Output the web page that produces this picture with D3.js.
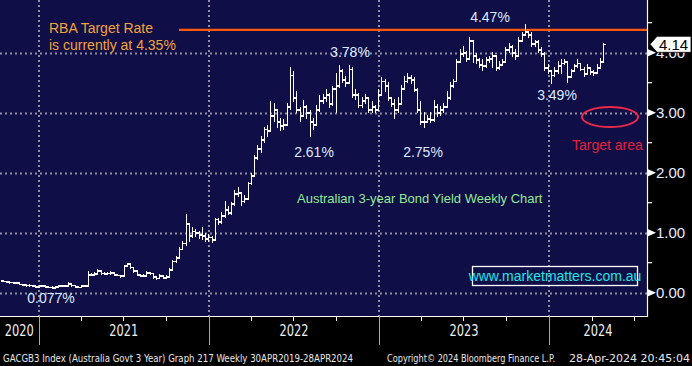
<!DOCTYPE html>
<html><head><meta charset="utf-8">
<script src="https://cdn.jsdelivr.net/npm/d3@7"></script>
<style>html,body{margin:0;padding:0;background:#000;overflow:hidden}</style>
</head><body>
<svg id="c" width="692" height="366"></svg>
<script>
// ---- data (weekly bars, GACGB3 Index) ----
const firstWeek = "2020-10-16";
const open = [0.20,0.19,0.18,0.17,0.16,0.16,0.14,0.13,0.12,0.12,
0.11,0.10,0.11,0.11,0.10,0.09,0.08,0.10,0.11,0.11,
0.11,0.15,0.12,0.10,0.09,0.11,0.11,0.30,0.30,0.31,
0.36,0.32,0.31,0.32,0.33,0.30,0.29,0.28,0.45,0.48,
0.42,0.36,0.30,0.28,0.28,0.33,0.32,0.26,0.24,0.28,
0.25,0.26,0.38,0.52,0.58,0.72,0.82,1.15,0.95,1.02,
1.00,0.96,0.95,0.90,0.92,0.88,1.22,1.18,1.28,1.38,
1.33,1.48,1.65,1.66,1.52,1.56,1.82,1.95,2.25,2.40,
2.55,2.72,2.70,2.95,3.05,2.85,2.78,2.80,3.10,3.62,
3.25,3.05,2.95,3.10,3.00,2.85,2.80,3.05,3.20,3.25,
3.30,3.15,3.40,3.45,3.70,3.55,3.50,3.72,3.30,3.30,
3.12,3.20,3.25,3.05,3.10,3.05,3.30,3.52,3.45,3.25,
3.15,3.05,3.15,3.40,3.52,3.58,3.55,3.38,3.05,2.85,
2.85,2.90,2.88,3.10,3.00,3.05,3.10,3.25,3.45,3.52,
3.85,3.98,4.00,3.90,4.20,3.95,3.88,3.80,3.78,3.88,
3.90,3.95,3.75,3.80,3.85,4.05,4.10,4.00,3.95,4.20,
4.30,4.35,4.30,4.15,4.18,4.05,3.98,3.75,3.70,3.62,
3.70,3.78,3.82,3.85,3.60,3.70,3.78,3.82,3.72,3.65,
3.75,3.68,3.66,3.75,3.85];
const high = [0.21,0.19,0.18,0.17,0.17,0.16,0.14,0.13,0.13,0.12,
0.12,0.12,0.12,0.11,0.10,0.10,0.11,0.12,0.12,0.12,
0.17,0.15,0.12,0.10,0.12,0.12,0.36,0.32,0.33,0.38,
0.36,0.33,0.34,0.35,0.33,0.31,0.29,0.46,0.49,0.48,
0.42,0.36,0.31,0.30,0.35,0.34,0.32,0.27,0.30,0.29,
0.28,0.40,0.54,0.60,0.76,0.85,1.30,1.16,1.08,1.05,
1.02,1.08,0.98,0.97,0.94,1.24,1.24,1.33,1.52,1.43,
1.50,1.71,1.75,1.66,1.62,1.83,1.98,2.28,2.45,2.61,
2.76,2.78,3.18,3.15,3.05,2.90,2.88,3.16,3.76,3.68,
3.35,3.08,3.20,3.12,3.04,2.90,3.12,3.28,3.30,3.38,
3.32,3.43,3.66,3.78,3.72,3.60,3.78,3.76,3.38,3.32,
3.25,3.30,3.25,3.18,3.12,3.38,3.58,3.55,3.50,3.26,
3.22,3.25,3.46,3.60,3.66,3.62,3.58,3.40,3.18,3.00,
2.95,3.00,3.20,3.13,3.10,3.16,3.35,3.50,3.55,3.88,
4.05,4.10,4.02,4.26,4.20,3.98,3.90,3.88,3.92,3.93,
4.00,3.95,3.85,3.88,4.08,4.15,4.12,4.05,4.25,4.33,
4.47,4.36,4.33,4.20,4.20,4.08,4.00,3.80,3.70,3.76,
3.85,3.88,3.88,3.86,3.72,3.80,3.88,3.82,3.76,3.80,
3.76,3.70,3.80,3.90,4.16];
const low = [0.18,0.17,0.16,0.15,0.15,0.13,0.12,0.11,0.11,0.10,
0.09,0.10,0.10,0.09,0.08,0.077,0.08,0.10,0.10,0.10,
0.11,0.11,0.08,0.08,0.09,0.10,0.11,0.28,0.29,0.30,
0.30,0.30,0.30,0.31,0.29,0.28,0.26,0.28,0.44,0.40,
0.34,0.29,0.27,0.27,0.28,0.30,0.24,0.22,0.24,0.24,
0.24,0.26,0.37,0.50,0.57,0.72,0.78,0.85,0.92,0.94,
0.90,0.88,0.85,0.86,0.83,0.87,1.14,1.16,1.26,1.30,
1.31,1.46,1.60,1.46,1.50,1.55,1.80,1.94,2.22,2.33,
2.50,2.60,2.68,2.85,2.76,2.70,2.72,2.78,3.05,3.18,
3.00,2.85,2.93,2.90,2.61,2.72,2.78,3.02,3.15,3.18,
3.08,3.12,3.00,3.42,3.50,3.43,3.48,3.26,3.22,3.08,
3.08,3.15,3.00,3.00,3.00,3.04,3.28,3.35,3.20,3.10,
2.90,3.00,3.13,3.40,3.50,3.48,3.35,3.00,2.80,2.75,
2.83,2.83,2.86,2.93,2.95,3.00,3.08,3.22,3.42,3.52,
3.85,3.93,3.85,3.90,3.83,3.82,3.76,3.70,3.76,3.83,
3.75,3.70,3.72,3.78,3.84,4.00,3.93,3.88,3.93,4.18,
4.29,4.25,4.10,4.10,4.00,3.93,3.70,3.66,3.49,3.60,
3.66,3.66,3.80,3.51,3.58,3.68,3.75,3.70,3.60,3.63,
3.63,3.62,3.65,3.73,3.85];
const close = [0.19,0.18,0.17,0.16,0.16,0.14,0.13,0.12,0.12,0.11,
0.10,0.11,0.11,0.10,0.09,0.08,0.10,0.11,0.11,0.11,
0.15,0.12,0.10,0.09,0.11,0.11,0.30,0.30,0.31,0.36,
0.32,0.31,0.32,0.33,0.30,0.29,0.28,0.45,0.48,0.42,
0.36,0.30,0.28,0.28,0.33,0.32,0.26,0.24,0.28,0.25,
0.26,0.38,0.52,0.58,0.72,0.82,1.15,0.95,1.02,1.00,
0.96,0.95,0.90,0.92,0.88,1.22,1.18,1.28,1.38,1.33,
1.48,1.65,1.66,1.52,1.56,1.82,1.95,2.25,2.40,2.55,
2.72,2.70,2.95,3.05,2.85,2.78,2.80,3.10,3.62,3.25,
3.05,2.95,3.10,3.00,2.85,2.80,3.05,3.20,3.25,3.30,
3.15,3.40,3.45,3.70,3.55,3.50,3.72,3.30,3.30,3.12,
3.20,3.25,3.05,3.10,3.05,3.30,3.52,3.45,3.25,3.15,
3.05,3.15,3.40,3.52,3.58,3.55,3.38,3.05,2.85,2.85,
2.90,2.88,3.10,3.00,3.05,3.10,3.25,3.45,3.52,3.85,
3.98,4.00,3.90,4.20,3.95,3.88,3.80,3.78,3.88,3.90,
3.95,3.75,3.80,3.85,4.05,4.10,4.00,3.95,4.20,4.30,
4.35,4.30,4.15,4.18,4.05,3.98,3.75,3.70,3.62,3.70,
3.78,3.82,3.85,3.60,3.70,3.78,3.82,3.72,3.65,3.75,
3.68,3.66,3.75,3.85,4.14];

const yTickValues = [0, 1, 2, 3, 4];
const yMinorValues = [0.5, 1.5, 2.5, 3.5, 4.5];
const yearLabels = ["2020", "2021", "2022", "2023", "2024"];
const yearStarts = ["2021-01-01", "2022-01-01", "2023-01-01", "2024-01-01"];
const lastValue = 4.14;
const rbaLevel = 4.38;
const rbaStart = "2021-10-29";
const peakTexts = ["4.47%", "3.78%", "2.61%", "2.75%", "3.49%", "0.077%"];
const footerLeft = "GACGB3 Index (Australia Govt 3 Year) Graph 217  Weekly 30APR2019-28APR2024";
const footerMid = "Copyright\u00A9 2024 Bloomberg Finance L.P.";
const footerRight = "28-Apr-2024 20:45:04";

// ---- layout ----
const W = 692, H = 366;
const plotR = 647, plotB = 316;
const svg = d3.select("#c");
const parse = d3.utcParse("%Y-%m-%d");

const x = d3.scaleUtc()
  .domain([Date.UTC(2020, 9, 10), Date.UTC(2024, 6, 29)])
  .range([0, plotR]);
const y = d3.scaleLinear().domain([0, 4]).range([292.7, 52.7]);

const start = parse(firstWeek);
const weeks = close.map((c, i) => ({
  d: d3.utcDay.offset(start, 7 * i), o: open[i], h: high[i], l: low[i], c
}));

svg.append("rect").attr("width", W).attr("height", H).attr("fill", "#000");
svg.append("rect").attr("x", 0).attr("y", 0).attr("width", plotR).attr("height", plotB)
  .attr("fill", "#0f0e47");

// grid
const grid = svg.append("g").attr("stroke", "#8e8e9e").attr("stroke-width", 2)
  .attr("stroke-dasharray", "2,3");
grid.selectAll("line.h").data(yTickValues).join("line")
  .attr("x1", 0).attr("x2", plotR)
  .attr("y1", d => Math.round(y(d)) + 0.5).attr("y2", d => Math.round(y(d)) + 0.5);
grid.selectAll("line.v").data(yearStarts.map(parse)).join("line")
  .attr("y1", 0).attr("y2", plotB)
  .attr("x1", d => Math.round(x(d))).attr("x2", d => Math.round(x(d)));

// RBA line
svg.append("line").attr("x1", x(parse(rbaStart))).attr("x2", plotR)
  .attr("y1", y(rbaLevel)).attr("y2", y(rbaLevel))
  .attr("stroke", "#ff5a0f").attr("stroke-width", 2.2);

// bars
const bars = svg.append("g").attr("stroke", "#fff").attr("stroke-width", 1.4)
  .attr("shape-rendering", "crispEdges");
bars.selectAll("line.hl").data(weeks).join("line")
  .attr("x1", d => Math.round(x(d.d)) + 0.5).attr("x2", d => Math.round(x(d.d)) + 0.5)
  .attr("y1", d => y(d.h) - 0.5).attr("y2", d => y(d.l) + 0.5);
bars.selectAll("line.o").data(weeks).join("line")
  .attr("x1", d => Math.round(x(d.d)) - 2).attr("x2", d => Math.round(x(d.d)) + 0.5)
  .attr("y1", d => y(d.o)).attr("y2", d => y(d.o)).attr("stroke-width", 1.6);
bars.selectAll("line.c").data(weeks).join("line")
  .attr("x1", d => Math.round(x(d.d)) + 0.5).attr("x2", d => Math.round(x(d.d)) + 3)
  .attr("y1", d => y(d.c)).attr("y2", d => y(d.c)).attr("stroke-width", 1.6);

// axes frame
svg.append("line").attr("x1", plotR + 0.5).attr("x2", plotR + 0.5).attr("y1", 0).attr("y2", plotB + 1)
  .attr("stroke", "#fff").attr("stroke-width", 1.2);
svg.append("line").attr("x1", 0).attr("x2", plotR + 1).attr("y1", plotB + 0.5).attr("y2", plotB + 0.5)
  .attr("stroke", "#fff").attr("stroke-width", 1.2);

// right axis
const ra = svg.append("g");
ra.selectAll("line.m").data(yMinorValues).join("line")
  .attr("x1", plotR).attr("x2", plotR + 5)
  .attr("y1", d => y(d)).attr("y2", d => y(d)).attr("stroke", "#fff").attr("stroke-width", 1.2);
ra.selectAll("path.tri").data(yTickValues).join("path")
  .attr("d", d => `M${plotR},${y(d) - 4}L${plotR + 9},${y(d)}L${plotR},${y(d) + 4}Z`)
  .attr("fill", "#fff");
ra.selectAll("text").data(yTickValues).join("text")
  .attr("x", plotR + 9).attr("y", d => y(d) + 5.5)
  .attr("fill", "#e6ecff").attr("font-family", "Liberation Sans, Arial, sans-serif")
  .attr("font-size", 15).text(d => d3.format(".2f")(d));

// last value box
const yl = y(lastValue);
svg.append("path")
  .attr("d", `M${plotR + 3},${yl}L${plotR + 10},${yl - 8}L691,${yl - 8}L691,${yl + 8}L${plotR + 10},${yl + 8}Z`)
  .attr("fill", "#fff").attr("stroke", "#000").attr("stroke-width", 0.8);
svg.append("text").attr("x", plotR + 12).attr("y", yl + 5.5)
  .attr("font-family", "Liberation Sans, Arial, sans-serif").attr("font-size", 15)
  .attr("fill", "#000").text(d3.format(".2f")(lastValue));

// bottom axis
const qTicks = d3.utcMonth.every(3).range(x.domain()[0], x.domain()[1]);
svg.append("g").selectAll("line").data(qTicks).join("line")
  .attr("x1", d => Math.round(x(d)) + 0.5).attr("x2", d => Math.round(x(d)) + 0.5)
  .attr("y1", plotB).attr("y2", plotB + 5).attr("stroke", "#fff").attr("stroke-width", 1);
svg.append("g").selectAll("line").data(yearStarts.map(parse)).join("line")
  .attr("x1", d => Math.round(x(d)) + 0.5).attr("x2", d => Math.round(x(d)) + 0.5)
  .attr("y1", plotB).attr("y2", 345).attr("stroke", "#a8a8a8").attr("stroke-width", 1);
const bounds = [0, ...yearStarts.map(s => x(parse(s))), plotR];
svg.append("g").selectAll("text").data(yearLabels).join("text")
  .attr("x", (d, i) => (bounds[i] + bounds[i + 1]) / 2)
  .attr("y", 336).attr("text-anchor", "middle")
  .attr("font-family", "DejaVu Sans Condensed, DejaVu Sans, sans-serif")
  .attr("font-stretch", "condensed")
  .attr("font-size", 15).attr("fill", "#f0f0f0")
  .attr("textLength", 29).attr("lengthAdjust", "spacingAndGlyphs")
  .text(d => d);

// footer
const ff = "DejaVu Sans Condensed, DejaVu Sans, sans-serif";
svg.append("text").attr("x", 3).attr("y", 362).attr("font-family", ff).attr("font-size", 10)
  .attr("fill", "#e8e8e8").attr("textLength", 350).attr("lengthAdjust", "spacingAndGlyphs").text(footerLeft);
svg.append("text").attr("x", 387).attr("y", 362).attr("font-family", ff).attr("font-size", 10)
  .attr("fill", "#e8e8e8").attr("textLength", 168).attr("lengthAdjust", "spacingAndGlyphs").text(footerMid);
svg.append("text").attr("x", 569).attr("y", 362).attr("font-family", ff).attr("font-size", 10)
  .attr("fill", "#e8e8e8").attr("textLength", 121).attr("lengthAdjust", "spacingAndGlyphs").text(footerRight);

// annotations
const af = "Liberation Sans, Arial, sans-serif";
svg.append("text").attr("x", 49).attr("y", 33).attr("font-family", af).attr("font-size", 14)
  .attr("fill", "#f2a33a").text("RBA Target Rate");
svg.append("text").attr("x", 49).attr("y", 50).attr("font-family", af).attr("font-size", 14)
  .attr("fill", "#f2a33a").text("is currently at 4.35%");

const peakPos = [[490, 22], [350, 57], [314, 157], [423, 157], [557, 100], [51, 303]];
svg.append("g").selectAll("text").data(peakTexts).join("text")
  .attr("x", (d, i) => peakPos[i][0]).attr("y", (d, i) => peakPos[i][1])
  .attr("text-anchor", "middle").attr("font-family", af).attr("font-size", 14)
  .attr("fill", "#dbe8ff").text(d => d);

svg.append("text").attr("x", 297).attr("y", 203).attr("font-family", af).attr("font-size", 13)
  .attr("fill", "#95e895").text("Australian 3-year Bond Yield Weekly Chart");

svg.append("ellipse").attr("cx", 610).attr("cy", 117).attr("rx", 28).attr("ry", 10)
  .attr("fill", "none").attr("stroke", "#e82a48").attr("stroke-width", 2);
svg.append("text").attr("x", 572).attr("y", 150).attr("font-family", af).attr("font-size", 14)
  .attr("fill", "#e0203c").text("Target area");

svg.append("rect").attr("x", 472.5).attr("y", 266.5).attr("width", 165).attr("height", 19)
  .attr("fill", "none").attr("stroke", "#fff").attr("stroke-width", 1.3);
svg.append("text").attr("x", 555).attr("y", 281).attr("text-anchor", "middle")
  .attr("font-family", af).attr("font-size", 14).attr("fill", "#1fe6e6")
  .text("www.marketmatters.com.au");
</script>
</body></html>
